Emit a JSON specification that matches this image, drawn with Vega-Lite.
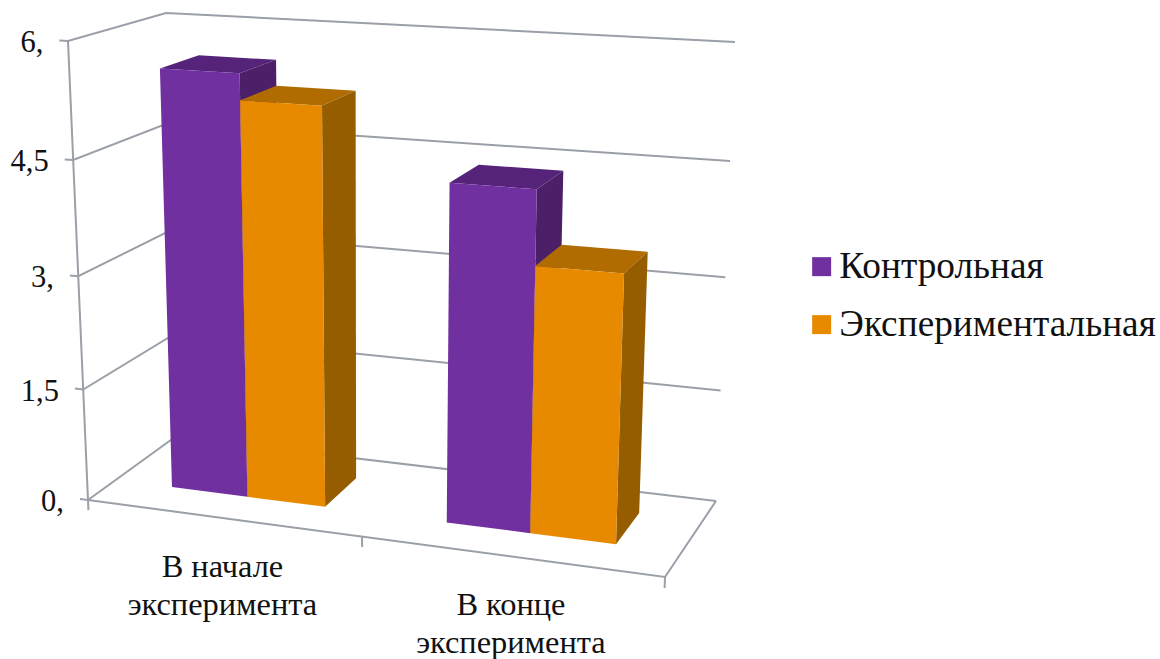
{
  "$schema": "https://vega.github.io/schema/vega-lite/v6.json",
  "width": 1160,
  "height": 659,
  "autosize": {"type": "none"},
  "padding": 0,
  "background": "white",
  "view": {"stroke": null},
  "config": {"font": "Liberation Serif"},
  "datasets": {
    "bars": [
      {"period": 0, "group": "Контрольная", "slot": 0, "value": 5.58},
      {"period": 0, "group": "Экспериментальная", "slot": 1, "value": 5.24},
      {"period": 1, "group": "Контрольная", "slot": 0, "value": 4.39},
      {"period": 1, "group": "Экспериментальная", "slot": 1, "value": 3.44}
    ],
    "levels": [
      {"value": 0, "label": "0,"},
      {"value": 1.5, "label": "1,5"},
      {"value": 3, "label": "3,"},
      {"value": 4.5, "label": "4,5"},
      {"value": 6, "label": "6,"}
    ],
    "periods": [
      {"period": 0, "label": "В начале\nэксперимента"},
      {"period": 1, "label": "В конце\nэксперимента"}
    ],
    "edges": [
      {"edge": "wall", "step": 0, "a": 0, "b": 0, "c": 0},
      {"edge": "wall", "step": 1, "a": 0, "b": 1, "c": 0},
      {"edge": "floor", "step": 0, "a": 0, "b": 0, "c": 0},
      {"edge": "floor", "step": 1, "a": 1, "b": 0, "c": 0},
      {"edge": "floor", "step": 2, "a": 1, "b": 0, "c": 1},
      {"edge": "tick0", "step": 0, "a": 0, "b": 0, "c": 0},
      {"edge": "tick0", "step": 1, "a": 0, "b": -0.022, "c": 0},
      {"edge": "tick1", "step": 0, "a": 0.475, "b": 0, "c": 0},
      {"edge": "tick1", "step": 1, "a": 0.475, "b": -0.022, "c": 0},
      {"edge": "tick2", "step": 0, "a": 1, "b": 0, "c": 0},
      {"edge": "tick2", "step": 1, "a": 1, "b": -0.022, "c": 0}
    ]
  },
  "encoding": {
    "x": {"field": "sx", "type": "quantitative", "scale": {"domain": [0, 1160], "nice": false, "zero": false}, "axis": null},
    "y": {"field": "sy", "type": "quantitative", "scale": {"domain": [0, 659], "reverse": true, "nice": false, "zero": false}, "axis": null}
  },
  "layer": [
    {
      "data": {"name": "levels"},
      "transform": [
        {"calculate": "[{s:0,a:-0.014,c:0},{s:1,a:0,c:0},{s:2,a:0,c:1},{s:3,a:1,c:1}]", "as": "vert"},
        {"flatten": ["vert"]},
        {"calculate": "datum.vert.s", "as": "step"},
        {"calculate": "datum.vert.a", "as": "u"},
        {"calculate": "datum.value/6-0.05*(datum.value/6)*(1-datum.value/6)", "as": "v"},
        {"calculate": "datum.vert.c", "as": "w"},
        {"calculate": "(1-datum.w)*((1-datum.u)*(88-20*datum.v)+datum.u*(665+18*datum.v))+datum.w*((1-datum.u)*(175-9*datum.v)+datum.u*(716+19*datum.v))", "as": "sx"},
        {"calculate": "(1-datum.w)*((1-datum.u)*(500-459*datum.v)+datum.u*(577-500*datum.v))+datum.w*((1-datum.u)*(437-424*datum.v)+datum.u*(501-459*datum.v))", "as": "sy"}
      ],
      "mark": {"type": "line", "color": "#9A9FA8", "strokeWidth": 2},
      "encoding": {"detail": {"field": "value"}, "order": {"field": "step"}}
    },
    {
      "data": {"name": "edges"},
      "transform": [
        {"calculate": "datum.a", "as": "u"},
        {"calculate": "datum.b", "as": "v"},
        {"calculate": "datum.c", "as": "w"},
        {"calculate": "(1-datum.w)*((1-datum.u)*(88-20*datum.v)+datum.u*(665+18*datum.v))+datum.w*((1-datum.u)*(175-9*datum.v)+datum.u*(716+19*datum.v))", "as": "sx"},
        {"calculate": "(1-datum.w)*((1-datum.u)*(500-459*datum.v)+datum.u*(577-500*datum.v))+datum.w*((1-datum.u)*(437-424*datum.v)+datum.u*(501-459*datum.v))", "as": "sy"}
      ],
      "mark": {"type": "line", "color": "#9A9FA8", "strokeWidth": 2},
      "encoding": {"detail": {"field": "edge"}, "order": {"field": "step"}}
    },
    {
      "data": {"name": "bars"},
      "transform": [
        {"calculate": "(datum.period+0.218+0.285*datum.slot)/2", "as": "t0"},
        {"calculate": "datum.t0+0.1425", "as": "t1"},
        {"calculate": "datum.t0-0.1*datum.t0*(1-datum.t0)", "as": "u0"},
        {"calculate": "datum.t1-0.1*datum.t1*(1-datum.t1)", "as": "u1"},
        {"calculate": "[{f:'top',s:0,a:0,b:1,c:0},{f:'top',s:1,a:1,b:1,c:0},{f:'top',s:2,a:1,b:1,c:1},{f:'top',s:3,a:0,b:1,c:1},{f:'side',s:0,a:1,b:0,c:0},{f:'side',s:1,a:1,b:1,c:0},{f:'side',s:2,a:1,b:1,c:1},{f:'side',s:3,a:1,b:0,c:1},{f:'front',s:0,a:0,b:0,c:0},{f:'front',s:1,a:1,b:0,c:0},{f:'front',s:2,a:1,b:1,c:0},{f:'front',s:3,a:0,b:1,c:0}]", "as": "vert"},
        {"flatten": ["vert"]},
        {"calculate": "datum.vert.f", "as": "face"},
        {"calculate": "datum.vert.s", "as": "step"},
        {"calculate": "datum.period+'-'+datum.slot+'-'+datum.face", "as": "piece"},
        {"calculate": "datum.face==='front'?datum.group:datum.group+' '+datum.face", "as": "shade"},
        {"calculate": "datum.vert.a?datum.u1:datum.u0", "as": "u"},
        {"calculate": "datum.vert.b*(datum.value/6-0.05*(datum.value/6)*(1-datum.value/6))", "as": "v"},
        {"calculate": "datum.vert.c?0.74:0.32", "as": "w"},
        {"calculate": "(1-datum.w)*((1-datum.u)*(88-20*datum.v)+datum.u*(665+18*datum.v))+datum.w*((1-datum.u)*(175-9*datum.v)+datum.u*(716+19*datum.v))", "as": "sx"},
        {"calculate": "(1-datum.w)*((1-datum.u)*(500-459*datum.v)+datum.u*(577-500*datum.v))+datum.w*((1-datum.u)*(437-424*datum.v)+datum.u*(501-459*datum.v))", "as": "sy"}
      ],
      "mark": {"type": "line", "filled": true, "strokeWidth": 0},
      "encoding": {
        "detail": {"field": "piece"},
        "order": {"field": "step"},
        "color": {
          "field": "shade",
          "type": "nominal",
          "sort": null,
          "scale": {
            "domain": ["Контрольная", "Экспериментальная", "Контрольная top", "Контрольная side", "Экспериментальная top", "Экспериментальная side"],
            "range": ["#7030A0", "#E88A00", "#55247A", "#4B2069", "#B06C00", "#955C00"]
          },
          "legend": {
            "values": ["Контрольная", "Экспериментальная"],
            "title": null,
            "orient": "none",
            "legendX": 803,
            "legendY": 248,
            "symbolType": "square",
            "symbolSize": 361,
            "symbolStrokeWidth": 0,
            "labelFont": "Liberation Serif",
            "labelFontSize": 37.3,
            "labelColor": "#111111",
            "labelLimit": 400,
            "labelOffset": -1,
            "rowPadding": 20
          }
        }
      }
    },
    {
      "data": {"name": "levels"},
      "transform": [
        {"calculate": "-0.014", "as": "u"},
        {"calculate": "datum.value/6-0.05*(datum.value/6)*(1-datum.value/6)", "as": "v"},
        {"calculate": "0", "as": "w"},
        {"calculate": "(1-datum.w)*((1-datum.u)*(88-20*datum.v)+datum.u*(665+18*datum.v))+datum.w*((1-datum.u)*(175-9*datum.v)+datum.u*(716+19*datum.v))", "as": "sx"},
        {"calculate": "(1-datum.w)*((1-datum.u)*(500-459*datum.v)+datum.u*(577-500*datum.v))+datum.w*((1-datum.u)*(437-424*datum.v)+datum.u*(501-459*datum.v))", "as": "sy"}
      ],
      "mark": {"type": "text", "align": "right", "baseline": "middle", "dx": -16, "dy": 3, "fontSize": 30.5, "color": "#111111"},
      "encoding": {"text": {"field": "label"}}
    },
    {
      "data": {"name": "periods"},
      "transform": [
        {"calculate": "0.25+datum.period*0.5", "as": "t"},
        {"calculate": "datum.t-0.1*datum.t*(1-datum.t)", "as": "u"},
        {"calculate": "0", "as": "v"},
        {"calculate": "0", "as": "w"},
        {"calculate": "(1-datum.w)*((1-datum.u)*(88-20*datum.v)+datum.u*(665+18*datum.v))+datum.w*((1-datum.u)*(175-9*datum.v)+datum.u*(716+19*datum.v))", "as": "sx"},
        {"calculate": "(1-datum.w)*((1-datum.u)*(500-459*datum.v)+datum.u*(577-500*datum.v))+datum.w*((1-datum.u)*(437-424*datum.v)+datum.u*(501-459*datum.v))", "as": "sy"}
      ],
      "mark": {"type": "text", "align": "center", "baseline": "top", "lineBreak": "\n", "lineHeight": 38, "dx": 1, "dy": 33, "fontSize": 32.4, "color": "#111111"},
      "encoding": {"text": {"field": "label"}}
    }
  ]
}
